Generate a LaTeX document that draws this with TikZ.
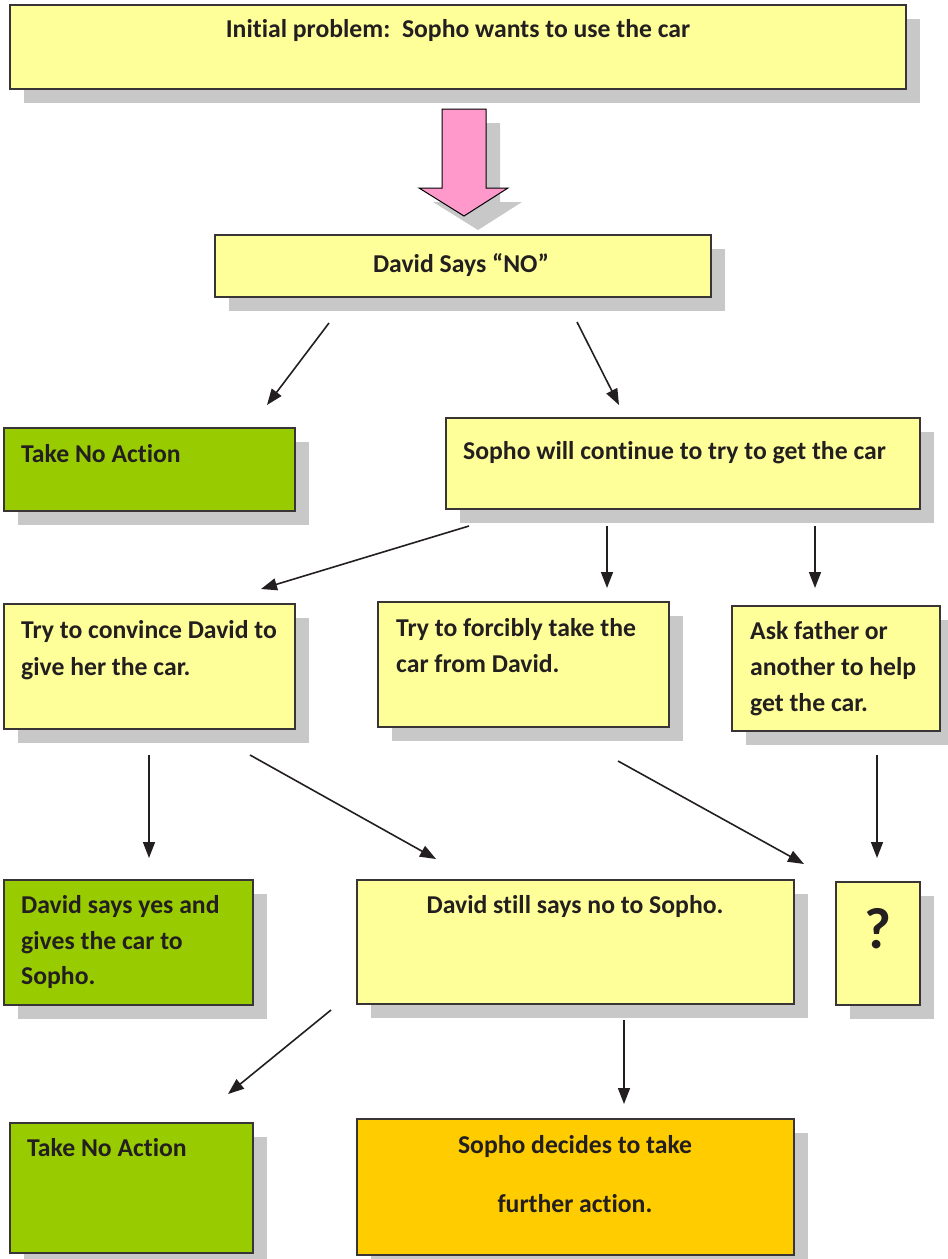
\documentclass[tikz,border=0pt]{standalone}
\usepackage{fontspec}
\setmainfont{Carlito}[Ligatures=NoCommon]
\usetikzlibrary{arrows.meta}
\definecolor{shadowgray}{HTML}{C8C8C8}
\definecolor{boxyellow}{HTML}{FFFF99}
\definecolor{boxgreen}{HTML}{99CC00}
\definecolor{boxorange}{HTML}{FFCC00}
\definecolor{arrowpink}{HTML}{FF99CC}
\definecolor{inkdark}{HTML}{231F20}
\newcommand\flowbox[6]{%
  \fill[shadowgray] (#2+14,#3+14) rectangle ++(#4,#5);
  \node[boxstyle, fill=#6, minimum width=#4pt, minimum height=#5pt, anchor=north west] (#1) at (#2,#3) {};
}
\begin{document}
\begin{tikzpicture}[x=1pt,y=-1pt,
  boxstyle/.style={draw=inkdark!90, line width=1.4pt, inner sep=0pt, outer sep=0pt},
  txt/.style={font=\fontsize{25.7}{30}\selectfont\bfseries, text=inkdark, inner sep=0pt},
  conn/.style={draw=inkdark, line width=1.6pt, -{Triangle[length=16pt,width=12pt]}}]
\useasboundingbox (0,0) rectangle (948,1259);
\clip (0,0) rectangle (948,1259);

% boxes
\flowbox{top}{10}{5}{896}{84}{boxyellow}
\flowbox{no}{215}{235}{496}{62}{boxyellow}
\flowbox{noact}{4}{428}{291}{83}{boxgreen}
\flowbox{cont}{446}{418}{474}{91}{boxyellow}
\flowbox{conv}{4}{604}{291}{125}{boxyellow}
\flowbox{force}{378}{602}{291}{125}{boxyellow}
\flowbox{ask}{732}{606}{208}{125}{boxyellow}
\flowbox{yes}{4}{880}{249}{125}{boxgreen}
\flowbox{still}{357}{880}{437}{124}{boxyellow}
\flowbox{qm}{836}{882}{84}{123}{boxyellow}
\flowbox{noact2}{10}{1123}{243}{130}{boxgreen}
\flowbox{further}{357}{1119}{437}{136}{boxorange}

% texts
\node[txt, anchor=base] (ttop) at (458,37) {Initial problem:\ \ Sopho wants to use the car};
\node[txt, anchor=base] (tno) at (461,272) {David Says “NO”};
\node[txt, anchor=base west] (tnoact) at (21,462) {Take No Action};
\node[txt, anchor=base west] (tcont) at (463,459) {Sopho will continue to try to get the car};
\node[txt, anchor=base west] (tconv1) at (21,638) {Try to convince David to};
\node[txt, anchor=base west] (tconv2) at (21,675) {give her the car.};
\node[txt, anchor=base west] (tforce1) at (396,636) {Try to forcibly take the};
\node[txt, anchor=base west] (tforce2) at (396,672) {car from David.};
\node[txt, anchor=base west] (task1) at (750,639) {Ask father or};
\node[txt, anchor=base west] (task2) at (750,675) {another to help};
\node[txt, anchor=base west] (task3) at (750,711) {get the car.};
\node[txt, anchor=base west] (tyes1) at (21,913) {David says yes and};
\node[txt, anchor=base west] (tyes2) at (21,949) {gives the car to};
\node[txt, anchor=base west] (tyes3) at (21,984) {Sopho.};
\node[txt, anchor=base] (tstill) at (575,913) {David still says no to Sopho.};
\node[font=\fontsize{58}{64}\selectfont\bfseries, text=inkdark, inner sep=0pt, anchor=base] (tqm) at (878,948) {?};
\node[txt, anchor=base west] (tnoact2) at (27,1156) {Take No Action};
\node[txt, anchor=base] (tfur1) at (575,1153) {Sopho decides to take};
\node[txt, anchor=base] (tfur2) at (575,1212) {further action.};

% pink block arrow with shadow
\fill[shadowgray] (456,123) -- (500,123) -- (500,202) -- (522,202) -- (478,230) -- (433,202) -- (456,202) -- cycle;
\draw[fill=arrowpink, draw=black, line width=1pt] (442,109) -- (486,109) -- (486,188) -- (508,188) -- (464,216) -- (419,188) -- (442,188) -- cycle;

% connector end points
\coordinate (a1s) at (329,323); \coordinate (a1e) at (267,405);
\coordinate (a2s) at (577,322); \coordinate (a2e) at (619,405);
\coordinate (a3s) at (469,526); \coordinate (a3e) at (261,589);
\coordinate (a4s) at (607,526); \coordinate (a4e) at (607,588);
\coordinate (a5s) at (815,526); \coordinate (a5e) at (815,588);
\coordinate (a6s) at (149,755); \coordinate (a6e) at (149,858);
\coordinate (a7s) at (250,755); \coordinate (a7e) at (436,859);
\coordinate (a8s) at (618,761); \coordinate (a8e) at (804,864);
\coordinate (a9s) at (877,755); \coordinate (a9e) at (877,858);
\coordinate (a10s) at (331,1010); \coordinate (a10e) at (228,1094);
\coordinate (a11s) at (624,1020); \coordinate (a11e) at (624,1104);

\draw[conn] (a1s) -- (a1e);
\draw[conn] (a2s) -- (a2e);
\draw[conn] (a3s) -- (a3e);
\draw[conn] (a4s) -- (a4e);
\draw[conn] (a5s) -- (a5e);
\draw[conn] (a6s) -- (a6e);
\draw[conn] (a7s) -- (a7e);
\draw[conn] (a8s) -- (a8e);
\draw[conn] (a9s) -- (a9e);
\draw[conn] (a10s) -- (a10e);
\draw[conn] (a11s) -- (a11e);
\end{tikzpicture}
\end{document}
